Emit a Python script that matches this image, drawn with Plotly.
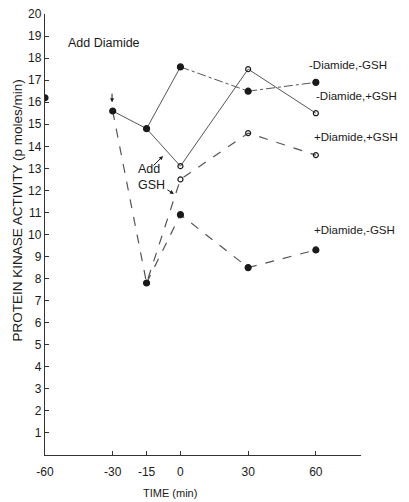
import plotly.graph_objects as go

# ---- data ----
time = [-30, -15, 0, 30, 60]
start_time = [-60]
start_value = [16.2]

minus_d_minus_g = [15.6, 14.8, 17.6, 16.5, 16.9]   # -Diamide,-GSH
minus_d_plus_g = [15.6, 14.8, 13.1, 17.5, 15.5]    # -Diamide,+GSH
plus_d_plus_g = [15.6, 7.8, 12.5, 14.6, 13.6]      # +Diamide,+GSH
plus_d_minus_g = [15.6, 7.8, 10.9, 8.5, 9.3]       # +Diamide,-GSH

x_ticks = [-60, -30, -15, 0, 30, 60]
y_ticks = list(range(1, 21))

LINE = "#555555"
INK = "#1a1a1a"
FONT = "Liberation Sans"

fig = go.Figure()

def seg(x, y, dash, width=1):
    fig.add_trace(go.Scatter(x=x, y=y, mode="lines",
                             line=dict(color=LINE, width=width, dash=dash),
                             hoverinfo="skip", showlegend=False))

def pts(x, y, filled):
    fig.add_trace(go.Scatter(
        x=x, y=y, mode="markers", showlegend=False,
        marker=dict(symbol="circle" if filled else "circle-open",
                    size=6 if filled else 5, color=INK,
                    line=dict(color=INK, width=1.2))))

# -Diamide series
seg(time[:3], minus_d_minus_g[:3], "solid")
seg(time[2:], minus_d_minus_g[2:], "dashdot")
seg(time[1:], minus_d_plus_g[1:], "solid")
# +Diamide series
seg(time, plus_d_plus_g, "dash", 1.2)
seg(time[1:], plus_d_minus_g[1:], "dash", 1.2)

# markers
pts(start_time, start_value, True)
pts(time[:2], minus_d_minus_g[:2], True)
pts(time[1:2], plus_d_minus_g[1:2], True)
pts(time[2:], minus_d_minus_g[2:], True)
pts(time[2:], plus_d_minus_g[2:], True)
pts(time[2:], minus_d_plus_g[2:], False)
pts(time[2:], plus_d_plus_g[2:], False)

ann = []
def label(text, x, y, size=11.5, xanchor="left", **kw):
    ann.append(dict(text=text, x=x, y=y, xref="x", yref="y", showarrow=False,
                    xanchor=xanchor, yanchor="middle",
                    font=dict(family=FONT, size=size, color=INK), **kw))

label("-Diamide,-GSH", 56, 17.7)
label("-Diamide,+GSH", 59, 16.3)
label("+Diamide,+GSH", 58.5, 14.4)
label("+Diamide,-GSH", 58.5, 10.2)
label("Add Diamide", -50.5, 18.7, size=12.5)
label("Add<br>GSH", -19.5, 12.6, size=12.5, align="left")

def arrow(x, y, ax, ay):
    ann.append(dict(text="", x=x, y=y, xref="x", yref="y", ax=ax, ay=ay,
                    showarrow=True, arrowhead=2, arrowsize=0.8, arrowwidth=1,
                    arrowcolor=INK))

arrow(-30.3, 16.0, 0, -10)
arrow(-7.7, 13.56, -11, 11)
arrow(-2.9, 11.84, -8, -5)

# axis titles
ann.append(dict(text="PROTEIN KINASE ACTIVITY (p moles/min)", xref="paper", yref="paper",
                x=-0.088, y=0.555, textangle=-90, showarrow=False,
                xanchor="center", yanchor="middle",
                font=dict(family=FONT, size=13.5, color=INK)))
ann.append(dict(text="TIME (min)", xref="paper", yref="paper",
                x=0.395, y=-0.086, showarrow=False, xanchor="center", yanchor="middle",
                font=dict(family=FONT, size=11, color=INK)))

fig.update_layout(
    width=401, height=494,
    margin=dict(l=37, r=48, t=6, b=47),
    plot_bgcolor="white", paper_bgcolor="white",
    annotations=ann,
    xaxis=dict(range=[-60, 80], tickvals=x_ticks, ticktext=[str(v) for v in x_ticks],
               showline=True, linecolor="#333", linewidth=1.3, ticks="inside",
               ticklen=4, tickcolor="#333", showgrid=False, zeroline=False,
               automargin=False, ticklabelstandoff=5,
               tickfont=dict(family=FONT, size=12, color=INK)),
    yaxis=dict(range=[0, 20], tickvals=y_ticks, ticktext=[str(v) for v in y_ticks],
               showline=True, linecolor="#333", linewidth=1.3, ticks="inside",
               ticklen=4, tickcolor="#333", showgrid=False, zeroline=False,
               automargin=False, ticklabeloverflow="allow",
               tickfont=dict(family=FONT, size=12, color=INK)),
)

fig.write_html("out.html")
